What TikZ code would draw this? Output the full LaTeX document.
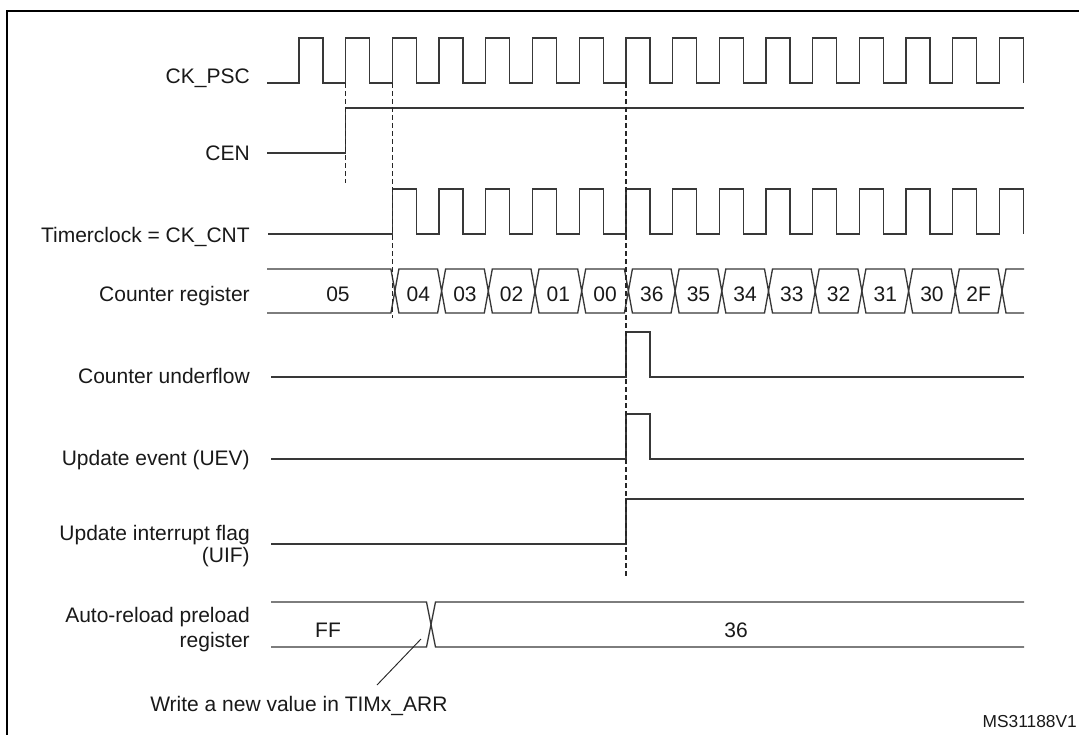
\documentclass[tikz,border=0pt]{standalone}
\usepackage{fontspec}
\setmainfont{Liberation Sans}
\begin{document}
\begin{tikzpicture}[x=0.75pt,y=-0.75pt,
  sig/.style={line width=1pt, draw=black!78, line join=miter},
  guide/.style={line width=0.9pt, draw=black!85, dash pattern=on 3.5pt off 2.5pt},
  lbl/.style={font=\fontsize{15.75}{18}\selectfont, inner sep=0pt, text=black!90},
  sidelbl/.style={lbl, anchor=base east},
  val/.style={lbl, anchor=base},
  frame/.style={line width=1.6pt, draw=black},
  pointer/.style={line width=0.7pt, draw=black!85}]
\useasboundingbox (0,0) rectangle (1079,735);
\def\clkP{46.7}
\def\clkH{24}
% frame (cropped on right and bottom)
\coordinate (fTL) at (7,11);
\coordinate (fTR) at (1081,11);
\coordinate (fBL) at (7,737);
\draw[frame] (fBL) -- (fTL) -- (fTR);

% labels
\node[sidelbl] (lpsc) at (250,83.5) {CK\_PSC};
\node[sidelbl] (lcen) at (250,161) {CEN};
\node[sidelbl] (lcnt) at (250,242.5) {Timerclock = CK\_CNT};
\node[sidelbl] (lreg) at (250,301.5) {Counter register};
\node[sidelbl] (lunf) at (250,383) {Counter underflow};
\node[sidelbl] (luev) at (250,465.5) {Update event (UEV)};
\node[sidelbl] (luifa) at (250,540) {Update interrupt flag};
\node[sidelbl] (luifb) at (250,562) {(UIF)};
\node[sidelbl] (larra) at (250,622) {Auto-reload preload};
\node[sidelbl] (larrb) at (250,647) {register};

% CK_PSC
\draw[sig] (267,83) \foreach \k in {0,...,15}{
  -- ({299+\k*\clkP},83) -- ({299+\k*\clkP},38)
  -- ({299+\k*\clkP+\clkH},38) -- ({299+\k*\clkP+\clkH},83)};

% CEN
\draw[sig] (267,153) -- ({299+\clkP},153) -- ({299+\clkP},108) -- (1024,108);

% Timerclock
\draw[sig] (268,234) \foreach \k in {2,...,15}{
  -- ({299+\k*\clkP},234) -- ({299+\k*\clkP},189)
  -- ({299+\k*\clkP+\clkH},189) -- ({299+\k*\clkP+\clkH},234)};

% Counter register
\draw[sig] (267,269) \foreach \k in {2,...,15}{
  -- ({301.5+\k*\clkP-4},269) -- ({301.5+\k*\clkP},291) -- ({301.5+\k*\clkP+4},269)} -- (1024,269);
\draw[sig] (267,313) \foreach \k in {2,...,15}{
  -- ({301.5+\k*\clkP-4},313) -- ({301.5+\k*\clkP},291) -- ({301.5+\k*\clkP+4},313)} -- (1024,313);
\node[val] (v0) at (338,301.5) {05};
\foreach \v [count=\i] in {04,03,02,01,00,36,35,34,33,32,31,30,2F}{
  \node[val] (v\i) at ({301.5+(\i+1)*\clkP+0.5*\clkP},301.5) {\v};
}

% Counter underflow
\draw[sig] (271,377) -- ({299+7*\clkP},377) -- ({299+7*\clkP},332)
  -- ({299+7*\clkP+\clkH},332) -- ({299+7*\clkP+\clkH},377) -- (1024,377);
% UEV
\draw[sig] (271,459) -- ({299+7*\clkP},459) -- ({299+7*\clkP},414)
  -- ({299+7*\clkP+\clkH},414) -- ({299+7*\clkP+\clkH},459) -- (1024,459);
% UIF
\draw[sig] (271,544) -- ({299+7*\clkP},544) -- ({299+7*\clkP},499) -- (1024,499);

% Auto-reload preload register
\draw[sig] (271,602) -- (426.5,602) -- (431,624.5) -- (435.5,602) -- (1024,602);
\draw[sig] (271,647) -- (426.5,647) -- (431,624.5) -- (435.5,647) -- (1024,647);
\node[val] (aff) at (328,637) {FF};
\node[val] (a36) at (736,637) {36};

% dashed guides
\coordinate (g1a) at ({299+\clkP},83);
\coordinate (g1b) at ({299+\clkP},183);
\coordinate (g2a) at ({299+2*\clkP},83);
\coordinate (g2b) at ({299+2*\clkP},318);
\coordinate (g3a) at ({299+7*\clkP},83);
\coordinate (g3b) at ({299+7*\clkP},578);
\draw[guide] (g1a) -- (g1b);
\draw[guide] (g2a) -- (g2b);
\draw[guide] (g3a) -- (g3b);

% annotation
\node[lbl, anchor=base west] (note) at (150,711.5) {Write a new value in TIMx\_ARR};
\coordinate (ptrA) at (421,639);
\coordinate (ptrB) at (377,685);
\draw[pointer] (ptrA) -- (ptrB);

\node[anchor=base east, inner sep=0pt, font=\fontsize{13}{15}\selectfont, text=black!90] (ms) at (1077,727) {MS31188V1};
\end{tikzpicture}
\end{document}
